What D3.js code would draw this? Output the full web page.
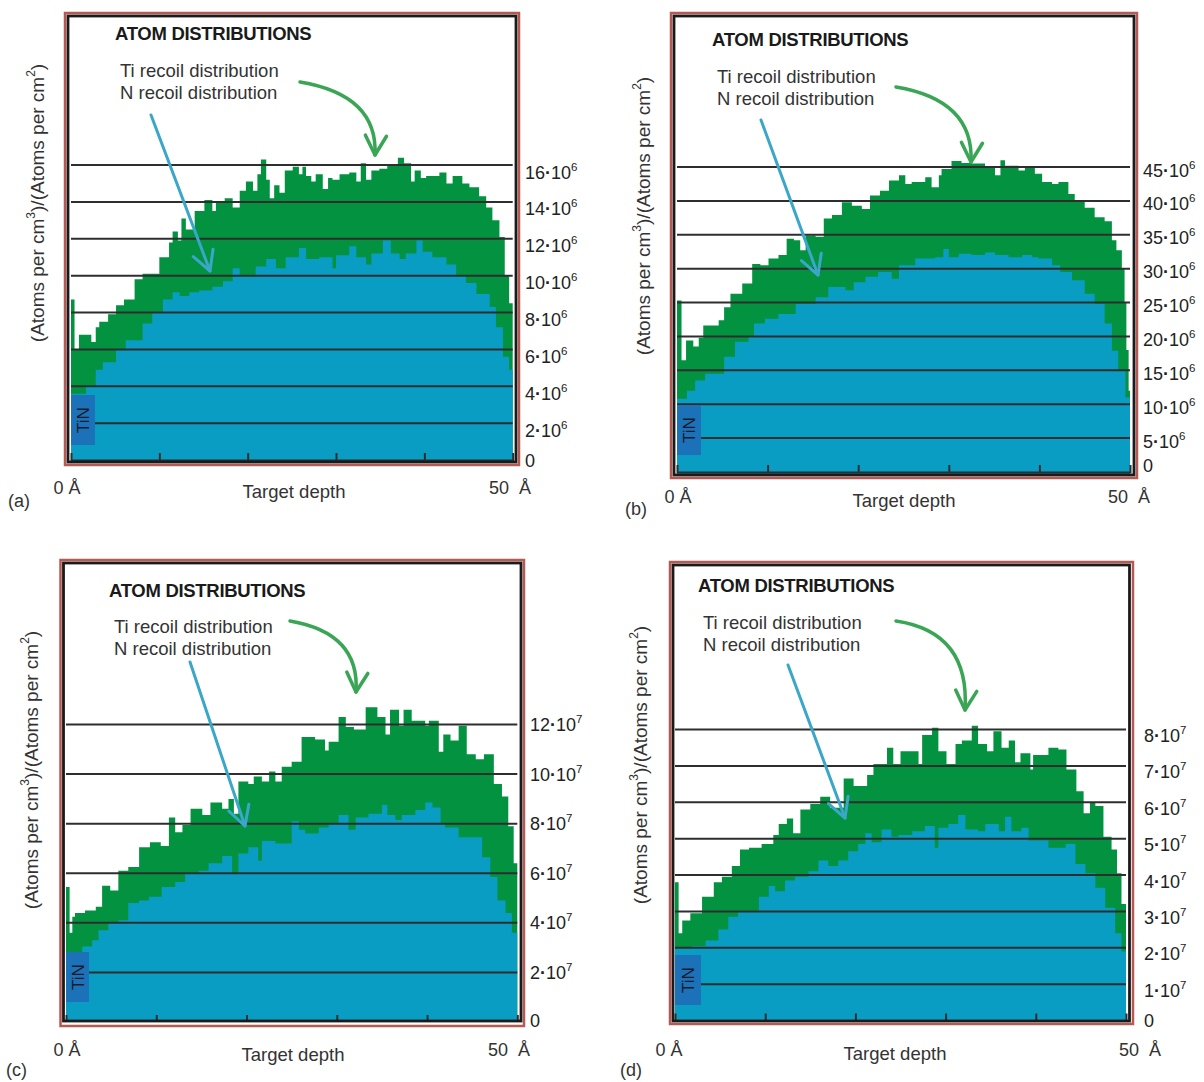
<!DOCTYPE html>
<html><head><meta charset="utf-8">
<script src="https://cdn.jsdelivr.net/npm/d3@7"></script>
<style>
body{margin:0;background:#fff}
svg text{font-family:"Liberation Sans",Arial,Helvetica,sans-serif;fill:#222}
</style>
</head><body>
<svg id="c" width="1204" height="1082"></svg>
<script>
// ---------------- DATA (depth in Å = start of each step, value = mantissa) ----------------
const DEPTH_TICKS = [10, 20, 30, 40];

// panel (a) — values ×10^6
const aTiDepth = [0,0.4,0.9,2.3,2.8,3.2,4.2,5.1,6.0,7.2,8.1,10.0,11.1,11.5,12.1,12.5,13.0,14.0,15.1,16.0,16.4,17.4,18.3,19.1,19.8,20.6,21.1,21.5,22.1,22.5,23.0,23.6,24.2,25.1,25.8,26.2,26.6,27.2,27.7,28.5,29.1,29.6,30.4,31.5,32.3,32.8,33.4,34.0,34.9,35.8,37.0,37.7,38.5,38.9,39.6,40.2,41.7,42.5,43.2,44.3,45.1,46.2,47.0,47.7,48.5,49.1,49.6];
const aTiVal   = [8.7,6.0,6.8,6.4,7.2,7.5,7.9,8.4,8.7,9.8,10.1,11.0,11.8,12.4,11.9,13.1,12.5,13.5,14.1,13.5,14.0,14.2,13.7,14.6,15.1,14.6,15.5,16.3,15.2,14.2,14.9,14.5,15.7,15.9,15.5,15.9,15.4,15.1,15.5,14.7,15.3,15.2,15.5,15.6,15.1,16.1,15.2,15.7,15.8,16.0,16.4,16.1,15.1,15.7,15.3,15.4,15.6,15.0,15.4,15.0,14.8,14.3,13.7,13.0,12.1,10.0,8.5];
const aNDepth  = [0,1.7,2.8,3.6,5.1,6.2,8.1,9.2,10.4,11.5,12.3,13.4,14.5,16.0,17.2,18.3,19.1,20.9,22.1,23.2,24.3,25.8,26.6,28.1,29.6,30.0,31.5,32.3,33.4,34.0,35.3,36.2,37.2,37.9,39.1,39.8,40.9,42.5,43.6,44.7,45.9,47.4,48.1,48.9,49.6];
const aNVal    = [3.6,4.0,4.9,5.3,6.0,6.5,7.4,8.0,8.7,9.1,8.9,9.1,9.2,9.4,9.7,10.4,10.0,10.5,10.9,10.4,11.0,11.5,10.9,11.0,10.4,11.1,11.6,11.0,10.6,11.2,11.9,11.2,10.9,11.2,11.9,11.3,11.0,10.6,10.0,9.6,9.0,8.3,7.2,5.6,4.9];
const aTicks   = [0,2,4,6,8,10,12,14,16];

// panel (b) — values ×10^6
const bTiDepth = [0,0.5,1.0,1.8,2.4,2.9,4.6,5.2,5.9,7.2,8.3,9.2,10.1,11.2,12.1,12.9,13.6,14.2,15.3,16.2,17.1,18.2,19.3,20.4,21.3,22.4,23.4,24.5,25.2,25.9,27.4,28.1,28.9,29.2,30.3,31.4,32.5,34.0,35.1,35.7,36.2,37.7,38.4,39.5,40.3,41.4,42.1,43.2,43.9,45.0,46.1,47.2,48.0,48.5,49.1,49.4,49.6,49.85];
const bTiVal   = [25.3,16.5,19.4,18.5,19.8,21.6,22.4,24.3,26.3,27.8,30.7,30.5,31.5,32.0,34.4,34.2,32.7,34.9,34.7,37.4,37.9,39.8,39.3,38.8,40.8,41.5,43.0,43.8,42.5,42.8,43.5,42.0,43.8,44.7,45.9,45.6,45.5,45.0,43.8,46.0,45.2,44.5,45.0,44.0,42.8,42.5,42.8,41.0,40.0,39.0,37.6,37.0,34.2,32.7,30.0,25.0,18.0,12.0];
const bNDepth  = [0,1.1,2.0,3.1,5.2,6.4,7.9,8.5,9.7,11.2,13.1,15.3,16.7,18.6,19.5,20.8,22.2,23.7,24.5,26.3,28.5,29.4,30.0,31.1,32.5,34.0,35.1,36.6,38.1,39.2,39.9,41.4,42.3,43.6,45.0,46.1,47.2,48.0,48.7,49.5];
const bNVal    = [10.8,12.0,13.5,14.5,17.0,19.2,19.9,21.9,22.6,23.3,24.8,25.8,27.3,26.8,28.0,28.8,29.5,28.5,30.5,31.5,31.7,32.9,31.7,32.2,32.0,32.4,32.0,31.7,32.0,31.7,31.5,30.5,29.5,28.3,26.3,24.8,21.9,17.9,15.0,11.0];
const bTicks   = [0,5,10,15,20,25,30,35,40,45];

// panel (c) — values ×10^7
const cTiDepth = [0,0.4,0.7,1.0,2.1,3.3,4.0,4.9,5.8,6.9,8.1,9.3,10.5,11.4,12.1,12.9,13.8,15.1,16.0,17.3,18.0,18.6,19.1,20.2,20.8,21.7,22.5,23.2,23.9,25.0,26.1,27.6,28.7,29.1,30.2,31.0,31.9,33.2,34.5,35.4,35.9,36.9,37.4,38.3,39.8,40.2,41.3,41.8,42.6,43.5,44.4,45.4,46.3,47.4,48.3,49.0,49.6];
const cTiVal   = [5.45,3.6,4.25,4.4,4.5,4.65,5.5,5.3,6.1,6.25,7.05,7.25,7.1,8.25,7.65,7.95,8.6,8.35,8.85,8.6,9.0,8.4,9.7,9.6,9.9,9.7,10.1,9.7,10.3,10.5,11.5,11.4,10.95,11.3,12.3,11.9,11.8,12.7,12.3,11.6,12.6,11.95,12.6,12.15,11.95,12.15,10.9,11.6,11.35,11.95,10.8,10.6,10.8,9.6,9.1,7.9,6.4];
const cNDepth  = [0,1.8,2.9,3.6,4.7,5.8,6.9,8.1,9.2,10.6,12.1,13.2,14.7,15.8,17.3,18.4,19.1,20.2,21.3,21.7,23.2,25.0,25.8,26.5,28.0,29.1,30.2,31.3,32.1,33.5,35.0,35.6,36.5,37.2,38.7,39.8,40.6,41.5,42.0,43.5,46.1,47.0,47.8,48.7,49.4];
const cNVal    = [2.8,3.05,3.3,3.7,4.0,4.1,4.8,4.9,5.05,5.45,5.65,6.0,6.1,6.4,6.7,6.0,6.8,7.05,6.5,7.3,7.2,8.1,7.75,7.6,7.85,8.0,8.35,7.75,8.25,8.4,8.75,8.35,8.15,8.35,8.55,8.85,8.65,8.0,7.85,7.45,6.65,5.85,4.9,4.4,3.6];
const cTicks   = [0,2,4,6,8,10,12];

// panel (d) — values ×10^7
const dTiDepth = [0,0.4,0.8,1.7,3.0,4.3,5.2,6.3,7.2,8.2,9.6,10.9,11.5,12.4,13.1,13.9,15.0,16.1,17.2,18.7,19.8,21.3,22.0,23.5,24.2,25.0,27.0,27.4,28.5,29.2,30.1,31.1,31.8,32.9,33.6,34.6,35.3,36.2,37.0,37.7,38.3,39.4,39.7,41.4,42.5,43.4,44.5,45.3,46.0,46.6,47.5,48.4,49.0,49.5];
const dTiVal   = [3.8,2.4,2.75,2.95,3.4,3.8,3.95,4.25,4.7,4.75,4.85,5.1,5.4,5.55,5.15,5.8,5.95,6.15,5.85,6.65,6.45,6.75,7.05,7.5,7.05,7.4,7.05,7.85,8.05,7.4,7.05,7.6,7.7,8.1,7.6,7.4,7.95,7.5,7.7,7.1,7.35,6.9,7.3,7.5,7.45,6.9,6.3,5.7,6.0,5.9,5.05,4.7,4.05,3.2];
const dNDepth  = [0,1.9,3.4,4.8,5.9,7.0,9.3,10.4,11.1,12.2,13.3,14.8,15.9,17.0,18.1,19.2,20.3,21.1,21.8,22.9,24.0,24.8,26.3,27.7,28.8,29.2,30.3,31.4,32.2,33.6,34.4,35.9,36.6,37.3,38.4,39.2,41.4,43.3,44.4,45.5,46.6,47.7,48.8,49.5];
const dNVal    = [2.0,2.05,2.2,2.5,2.85,3.0,3.4,3.7,3.55,3.85,3.95,4.1,4.4,4.25,4.4,4.65,4.85,5.15,4.9,5.25,5.05,5.1,5.2,5.35,4.75,5.3,5.4,5.65,5.25,5.2,5.4,5.2,5.6,5.2,5.3,4.95,4.75,4.85,4.3,4.05,3.65,3.1,2.4,1.9];
const dTicks   = [0,1,2,3,4,5,6,7,8];

const TITLE = "ATOM DISTRIBUTIONS";
const TI_LABEL = "Ti recoil distribution";
const N_LABEL = "N recoil distribution";

// ---------------- STYLE / LAYOUT ----------------
const GREEN = "#03923f", BLUE = "#0a9dc3", TIN = "#1c72b8";
const GREEN_ARROW = "#3aa655", BLUE_ARROW = "#3aa7c8";

const panels = [
  {id:"a", tiD:aTiDepth, tiV:aTiVal, nD:aNDepth, nV:aNVal, ticks:aTicks, exp:"6",
   red:[65,13,519,465], black:[68,16,516,462], xr:[71,512.7], yr:[460,165], labelX:525, labelDy:7, zeroBase:466,
   title:[115,39.5], ti:[120,76.5], n:[120,98.5],
   ga:{s:[300,82], c:[378,95], t:[375,155]}, ba:{s:[151,115], t:[210,271]},
   tin:[71,395,95,445], ylab:[37,203], zero:[67,494], target:[294,498], fifty:[510,494], letter:[8,507]},
  {id:"b", tiD:bTiDepth, tiV:bTiVal, nD:bNDepth, nV:bNVal, ticks:bTicks, exp:"6",
   red:[671,13,1137,478], black:[674,16,1134,475], xr:[677,1130], yr:[472,167], labelX:1143, labelDy:3, zeroBase:471,
   title:[712,46], ti:[717,83], n:[717,105],
   ga:{s:[896,87], c:[974,100], t:[971,162]}, ba:{s:[761,120], t:[818,275]},
   tin:[677,405,701,455], ylab:[643,216], zero:[678,503], target:[904,507], fifty:[1129,503], letter:[625,515]},
  {id:"c", tiD:cTiDepth, tiV:cTiVal, nD:cNDepth, nV:cNVal, ticks:cTicks, exp:"7",
   red:[60.5,560,524,1026], black:[63.5,563,521,1021], xr:[66,517.3], yr:[1022,724.5], labelX:530, labelDy:0, zeroBase:1026,
   title:[109,597], ti:[114,633], n:[114,655],
   ga:{s:[290,621], c:[360,633], t:[356,692]}, ba:{s:[190,662], t:[245,826]},
   tin:[66,952,89,1002], ylab:[31,770], zero:[67,1056], target:[293,1061], fifty:[509,1056], letter:[6,1076]},
  {id:"d", tiD:dTiDepth, tiV:dTiVal, nD:dNDepth, nV:dNVal, ticks:dTicks, exp:"7",
   red:[670,562,1133,1024], black:[673,565,1129.5,1021], xr:[675,1126], yr:[1020.5,729.5], labelX:1144, labelDy:6, zeroBase:1026,
   title:[698,592], ti:[703,629], n:[703,651],
   ga:{s:[896,621], c:[970,632], t:[965,710]}, ba:{s:[788,665], t:[845,818]},
   tin:[675,955,701,1005], ylab:[640,765], zero:[669,1056], target:[895,1060], fifty:[1140,1056], letter:[620,1076]}
];

const svg = d3.select("#c");
svg.append("rect").attr("width",1204).attr("height",1082).attr("fill","#fff");

function arrowHead(g, tip, dir, color, len, width){
  const a = Math.atan2(dir[1], dir[0]);
  const spread = 0.5;
  const pts = [a + Math.PI - spread, a + Math.PI + spread].map(t => [tip[0] + len*Math.cos(t), tip[1] + len*Math.sin(t)]);
  g.append("path")
    .attr("d", `M${pts[0][0]},${pts[0][1]}L${tip[0]},${tip[1]}L${pts[1][0]},${pts[1][1]}`)
    .attr("fill","none").attr("stroke",color).attr("stroke-width",width)
    .attr("stroke-linecap","round").attr("stroke-linejoin","round");
}

panels.forEach(p => {
  const g = svg.append("g").attr("class","panel-"+p.id);
  const x = d3.scaleLinear().domain([0,50]).range(p.xr);
  const y = d3.scaleLinear().domain([0, p.ticks[p.ticks.length-1]]).range(p.yr);
  const [bx0,by0,bx1,by1] = p.black;

  const clipId = "clip-"+p.id;
  g.append("clipPath").attr("id",clipId).append("rect")
    .attr("x",bx0).attr("y",by0).attr("width",bx1-bx0).attr("height",by1-by0);
  const plot = g.append("g").attr("clip-path",`url(#${clipId})`);

  const area = d3.area().curve(d3.curveStepAfter)
    .x(d => x(d[0])).y0(y(0) + 4).y1(d => y(d[1]));
  const pts = (D,V) => D.map((d,i) => [d, V[i]]).concat([[50, V[V.length-1]]]);

  plot.append("path").datum(pts(p.tiD, p.tiV)).attr("d", area).attr("fill", GREEN);
  plot.append("path").datum(pts(p.nD, p.nV)).attr("d", area).attr("fill", BLUE);

  // horizontal grid lines
  plot.selectAll("line.grid").data(p.ticks.filter(t => t > 0)).join("line")
    .attr("class","grid")
    .attr("x1", x(0)).attr("x2", x(50))
    .attr("y1", d => y(d)).attr("y2", d => y(d))
    .attr("stroke","#2e2e2e").attr("stroke-width",2);

  // depth ticks on the baseline
  const xAxis = d3.axisTop(x).tickValues(DEPTH_TICKS).tickSize(7).tickFormat("");
  const xa = plot.append("g").attr("transform",`translate(0,${y(0)})`).call(xAxis);
  xa.select(".domain").attr("stroke","#2e2e2e").attr("stroke-width",2);
  xa.selectAll(".tick line").attr("stroke","#2e2e2e").attr("stroke-width",2);

  // TiN box
  const [tx0,ty0,tx1,ty1] = p.tin;
  g.append("rect").attr("x",tx0).attr("y",ty0).attr("width",tx1-tx0).attr("height",ty1-ty0).attr("fill",TIN);
  g.append("text").attr("transform",`translate(${(tx0+tx1)/2+6},${(ty0+ty1)/2}) rotate(-90)`)
    .attr("text-anchor","middle").attr("font-size",17).style("fill","#1a1a2a").text("TiN");

  // frames
  const [rx0,ry0,rx1,ry1] = p.red;
  g.append("rect").attr("x",rx0).attr("y",ry0).attr("width",rx1-rx0).attr("height",ry1-ry0)
    .attr("fill","none").attr("stroke","#b45a52").attr("stroke-width",2.5);
  g.append("rect").attr("x",bx0).attr("y",by0).attr("width",bx1-bx0).attr("height",by1-by0)
    .attr("fill","none").attr("stroke","#1a1a1a").attr("stroke-width",2.8);

  // right-side value labels
  const yAxis = d3.axisRight(y).tickValues(p.ticks).tickSize(0).tickPadding(0).tickFormat("");
  const ya = g.append("g").attr("transform",`translate(${p.labelX},0)`).call(yAxis);
  ya.select(".domain").remove();
  ya.selectAll(".tick text").remove();
  ya.selectAll(".tick").each(function(d){
    const t = d3.select(this).append("text")
      .attr("x",0).attr("y", d === 0 ? (p.zeroBase - y(0)) : (p.labelDy + 6))
      .attr("text-anchor","start").attr("font-size",18).style("fill","#222");
    if (d === 0) { t.text("0"); return; }
    t.append("tspan").text(d);
    t.append("tspan").attr("font-weight","bold").text("\u00b7");
    t.append("tspan").text("10");
    t.append("tspan").attr("font-size",11.5).attr("dy",-8).text(p.exp);
  });

  // title & legend text
  g.append("text").attr("x",p.title[0]).attr("y",p.title[1]).attr("font-size",18.5)
    .attr("font-weight","bold").attr("letter-spacing",-0.3).style("fill","#1a1a1a").text(TITLE);
  g.append("text").attr("x",p.ti[0]).attr("y",p.ti[1]).attr("font-size",18.5).style("fill","#333").text(TI_LABEL);
  g.append("text").attr("x",p.n[0]).attr("y",p.n[1]).attr("font-size",18.5).style("fill","#333").text(N_LABEL);

  // green curved arrow (Ti)
  const ga = p.ga;
  g.append("path").attr("d",`M${ga.s[0]},${ga.s[1]}Q${ga.c[0]},${ga.c[1]} ${ga.t[0]},${ga.t[1]}`)
    .attr("fill","none").attr("stroke",GREEN_ARROW).attr("stroke-width",3.5).attr("stroke-linecap","round");
  arrowHead(g, ga.t, [ga.t[0]-ga.c[0], ga.t[1]-ga.c[1]], GREEN_ARROW, 22, 3.5);

  // blue straight arrow (N)
  const ba = p.ba;
  g.append("line").attr("x1",ba.s[0]).attr("y1",ba.s[1]).attr("x2",ba.t[0]).attr("y2",ba.t[1])
    .attr("stroke",BLUE_ARROW).attr("stroke-width",3).attr("stroke-linecap","round");
  arrowHead(g, ba.t, [ba.t[0]-ba.s[0], ba.t[1]-ba.s[1]], BLUE_ARROW, 22, 3);

  // y-axis title
  const yl = g.append("text").attr("transform",`translate(${p.ylab[0]},${p.ylab[1]}) rotate(-90)`)
    .attr("text-anchor","middle").attr("font-size",19).attr("dy","0.35em").style("fill","#333");
  yl.append("tspan").text("(Atoms per cm");
  yl.append("tspan").attr("font-size",12).attr("dy",-9).text("3");
  yl.append("tspan").attr("dy",9).text(")/(Atoms per cm");
  yl.append("tspan").attr("font-size",12).attr("dy",-9).text("2");
  yl.append("tspan").attr("dy",9).text(")");

  // bottom labels
  g.append("text").attr("x",p.zero[0]).attr("y",p.zero[1]).attr("text-anchor","middle").attr("font-size",18).style("fill","#333").text("0 Å");
  g.append("text").attr("x",p.target[0]).attr("y",p.target[1]).attr("text-anchor","middle").attr("font-size",18.5).style("fill","#333").text("Target depth");
  g.append("text").attr("x",p.fifty[0]).attr("y",p.fifty[1]).attr("text-anchor","middle").attr("font-size",18).style("fill","#333")
    .attr("xml:space","preserve").style("white-space","pre").text("50  Å");
  g.append("text").attr("x",p.letter[0]).attr("y",p.letter[1]).attr("font-size",18).style("fill","#333").text(`(${p.id})`);
});
</script>
</body></html>
